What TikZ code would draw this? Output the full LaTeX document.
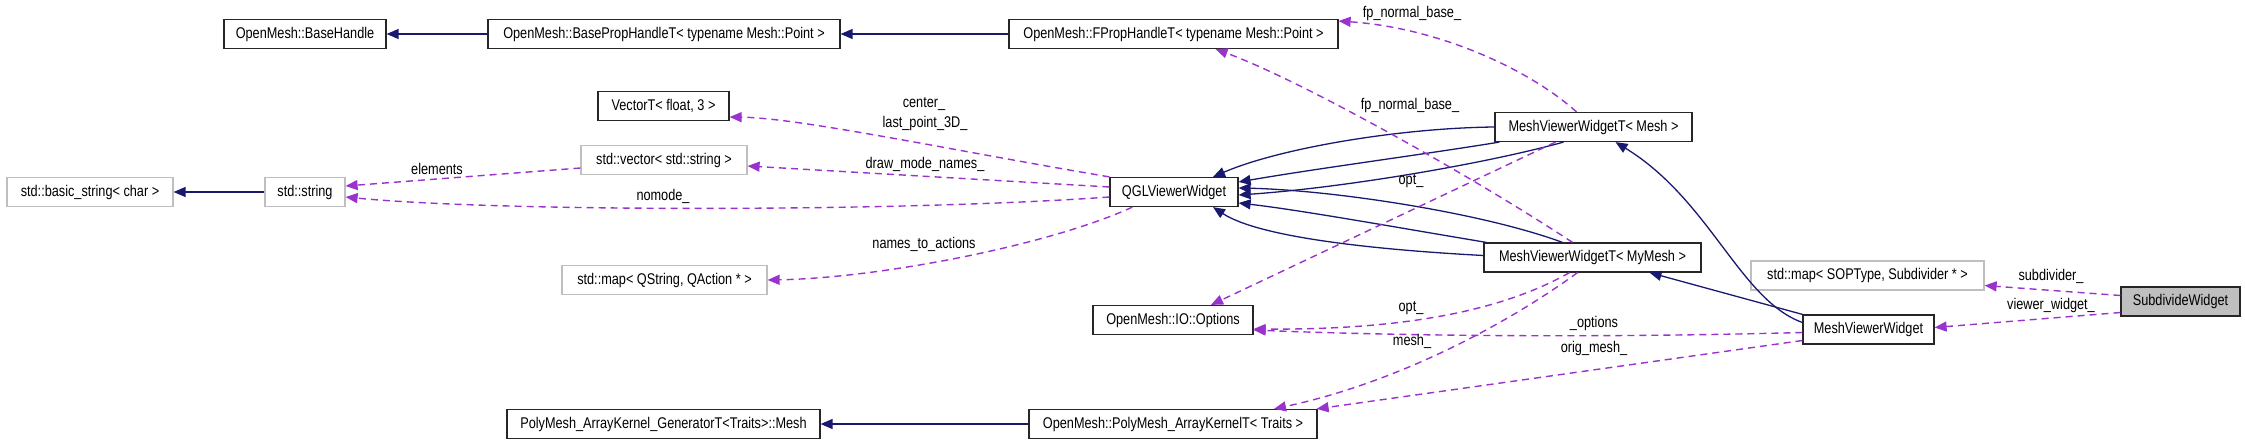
\documentclass[tikz,border=0pt]{standalone}
\usepackage{fontspec}
\setmainfont{Liberation Sans}[FakeStretch=0.82]
\usetikzlibrary{arrows.meta,calc}
\definecolor{inhcol}{HTML}{191970}
\definecolor{usecol}{HTML}{9A32CD}
\definecolor{graybd}{HTML}{BFBFBF}
\begin{document}
\begin{tikzpicture}[x=1pt,y=-1pt,
  every node/.style={font=\fontsize{15.5}{18}\selectfont, inner sep=0pt},
  cls/.style={draw=black!85, line width=1.2pt, minimum height=29pt, fill=white},
  ext/.style={draw=graybd, line width=1.2pt, minimum height=29pt, fill=white},
  inh/.style={draw=inhcol, line width=1.3pt, -{Triangle[length=12pt,width=10pt]}, color=inhcol},
  use/.style={draw=usecol, line width=1.4pt, dash pattern=on 7pt off 5pt, -{Triangle[length=12pt,width=10pt]}, color=usecol},
  lbl/.style={text=black}
]
\useasboundingbox (0,0) rectangle (2245,444);
% nodes
\node[cls, minimum width=162pt] (bh) at (305,34) {OpenMesh::BaseHandle};
\node[cls, minimum width=352pt] (bph) at (664,34) {OpenMesh::BasePropHandleT< typename Mesh::Point >};
\node[cls, minimum width=329pt] (fph) at (1173.5,34) {OpenMesh::FPropHandleT< typename Mesh::Point >};
\node[cls, minimum width=131pt] (vec3) at (663.5,106) {VectorT< float, 3 >};
\node[ext, minimum width=166pt] (svec) at (664,160) {std::vector< std::string >};
\node[ext, minimum width=166pt] (bstr) at (90,192) {std::basic\_string< char >};
\node[ext, minimum width=80pt] (str) at (305,192) {std::string};
\node[cls, minimum width=128pt] (qgl) at (1174,192) {QGLViewerWidget};
\node[cls, minimum width=197pt] (mvm) at (1593.5,127) {MeshViewerWidgetT< Mesh >};
\node[cls, minimum width=217pt] (mvmy) at (1592.5,257.5) {MeshViewerWidgetT< MyMesh >};
\node[ext, minimum width=205pt] (qmap) at (664.5,280) {std::map< QString, QAction * >};
\node[cls, minimum width=160pt] (opts) at (1173,320) {OpenMesh::IO::Options};
\node[ext, minimum width=233pt] (smap) at (1867.5,275.5) {std::map< SOPType, Subdivider * >};
\node[cls, minimum width=119pt, fill=graybd] (sw) at (2180.5,301.5) {SubdivideWidget};
\node[cls, minimum width=131pt] (mvw) at (1868.5,329.5) {MeshViewerWidget};
\node[cls, minimum width=313pt] (pgen) at (663.5,424) {PolyMesh\_ArrayKernel\_GeneratorT<Traits>::Mesh};
\node[cls, minimum width=288pt] (pak) at (1173,424) {OpenMesh::PolyMesh\_ArrayKernelT< Traits >};
% inheritance edges
\draw[inh] (bph) -- (bh);
\draw[inh] (fph) -- (bph);
\draw[inh] (pak) -- (pgen);
\draw[inh] (str) -- (bstr);
\draw[inh] (mvm.west) .. controls (1400,128) and (1280,148) .. ($(qgl.north)+(39,0)$);
\draw[inh] ($(mvm.south west)+(5,0)$) .. controls (1420,155) and (1320,168) .. ($(qgl.east)+(0,-10)$);
\draw[inh] ($(mvm.south)+(-30,0)$) .. controls (1480,165) and (1340,188) .. ($(qgl.east)+(0,3)$);
\draw[inh] ($(mvmy.north)+(-30,0)$) .. controls (1480,212) and (1330,190) .. ($(qgl.east)+(0,-4)$);
\draw[inh] ($(mvmy.north west)+(3,0)$) .. controls (1400,228) and (1300,210) .. ($(qgl.east)+(0,11)$);
\draw[inh] ($(mvmy.west)+(0,-2)$) .. controls (1380,250) and (1260,238) .. ($(qgl.south)+(39,0)$);
\draw[inh] (mvw.north west) -- ($(mvmy.south)+(57,0)$);
\draw[inh] ($(mvw.west)+(0,-7)$) .. controls (1740,300) and (1710,200) .. ($(mvm.south)+(22,0)$);
% usage edges
\draw[use] ($(svec.west)+(0,8)$) -- ($(str.east)+(0,-6)$);
\draw[use] ($(qgl.west)+(0,5)$) .. controls (900,212) and (500,212) .. ($(str.east)+(0,5)$);
\draw[use] ($(qgl.west)+(0,-5)$) -- ($(svec.east)+(0,6)$);
\draw[use] (qgl.north west) .. controls (950,150) and (800,118) .. ($(vec3.east)+(0,11)$);
\draw[use] ($(qgl.south west)+(23,0)$) .. controls (1050,245) and (880,278) .. (qmap.east);
\draw[use] ($(mvm.north)+(-17,0)$) .. controls (1530,70) and (1440,28) .. ($(fph.east)+(0,-13)$);
\draw[use] ($(mvmy.north)+(-20,0)$) .. controls (1470,175) and (1300,80) .. ($(fph.south)+(42,0)$);
\draw[use] ($(mvm.south)+(-38,0)$) -- ($(opts.north)+(38,0)$);
\draw[use] ($(mvmy.south)+(-23,0)$) .. controls (1500,312) and (1400,330) .. ($(opts.east)+(0,9)$);
\draw[use] ($(mvw.west)+(0,3)$) .. controls (1600,338) and (1400,336) .. ($(opts.east)+(0,10)$);
\draw[use] ($(mvmy.south)+(-15,0)$) .. controls (1510,322) and (1400,382) .. ($(pak.north)+(101,0)$);
\draw[use] ($(mvw.west)+(0,11)$) -- ($(pak.north east)+(-1,0)$);
\draw[use] ($(sw.west)+(0,-6)$) -- ($(smap.east)+(0,10)$);
\draw[use] ($(sw.west)+(0,11)$) -- ($(mvw.east)+(0,-2)$);
% labels
\node[lbl] (lelem) at (437,169) {elements};
\node[lbl] (lnomode) at (663,196) {nomode\_};
\node[lbl] (ldmn) at (925,164) {draw\_mode\_names\_};
\node[lbl] (lcenter) at (924,104) {center\_};
\node[lbl] (llp) at (925,123) {last\_point\_3D\_};
\node[lbl] (lnta) at (924,244) {names\_to\_actions};
\node[lbl] (lfp1) at (1412,13) {fp\_normal\_base\_};
\node[lbl] (lfp2) at (1410,105) {fp\_normal\_base\_};
\node[lbl] (lopt1) at (1411,181) {opt\_};
\node[lbl] (lopt2) at (1411,308) {opt\_};
\node[lbl] (lmesh) at (1412,341) {mesh\_};
\node[lbl] (lopts) at (1594,323) {\_options};
\node[lbl] (lorig) at (1594,348) {orig\_mesh\_};
\node[lbl] (lsub) at (2051,276) {subdivider\_};
\node[lbl] (lvw) at (2051,305) {viewer\_widget\_};
\end{tikzpicture}
\end{document}
